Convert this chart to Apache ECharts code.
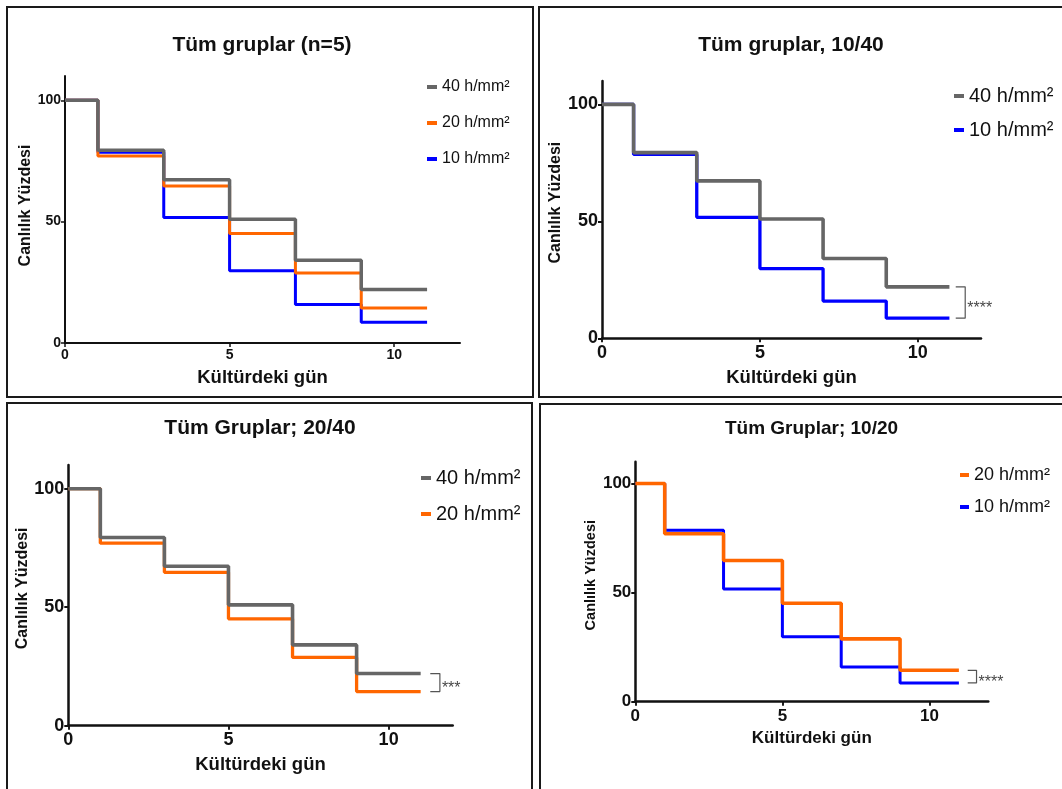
<!DOCTYPE html>
<html>
<head>
<meta charset="utf-8">
<script src="https://cdn.jsdelivr.net/npm/echarts@6/dist/echarts.min.js"></script>
<style>
  html, body { margin: 0; padding: 0; background: #ffffff; }
  #chart { width: 1062px; height: 789px; }
</style>
</head>
<body>
<div id="chart"></div>
<script>
// Survival (viability %) by culture day, step curves for three seeding densities
const days = [0, 1, 3, 5, 7, 9];
const lastDay = 11;
const viability40 = [100, 79.4, 67.3, 51.0, 34.1, 22.0];
const viability20 = [100, 77.0, 64.7, 45.1, 28.8, 14.4];
const viability10 = [100, 78.6, 51.7, 29.8, 15.9, 8.6];
const groupNames = ['40 h/mm²', '20 h/mm²', '10 h/mm²'];
const groupValues = [viability40, viability20, viability10];
const groupColors = ['#666666', '#ff6600', '#0000ff'];

const panelTitles = ['Tüm gruplar (n=5)', 'Tüm gruplar, 10/40', 'Tüm Gruplar; 20/40', 'Tüm Gruplar; 10/20'];
const xTicks = [0, 5, 10];
const yTicks = [0, 50, 100];
const xTitle = 'Kültürdeki gün';
const yTitle = 'Canlılık Yüzdesi';
const significanceMarks = ['', '****', '***', '****'];

const FONT = '"Liberation Sans", Arial, Helvetica, sans-serif';

// Layout and styling of the four panels
const panels = [
  { groups: [0, 1, 2], drawOrder: [2, 1, 0], grid: { left: 65, top: 76, width: 395, height: 267 },
    title: { x: 262, y: 34.5, size: 21 }, tickSize: 14, xNameSize: 18.5, yNameSize: 16,
    xNameGap: 25, yNameGap: 31, yNameShift: 8, labelMargin: 5,
    legend: { left: 427, top: 79, size: 16, gap: 20, w: 10 }, axisW: 2, lineW: [3.5, 3, 3],
    bracket: null },
  { groups: [0, 2], drawOrder: [2, 0], grid: { left: 602, top: 81, width: 379, height: 257.3 },
    title: { x: 791, y: 34.5, size: 21 }, tickSize: 18, xNameSize: 18.5, yNameSize: 16,
    xNameGap: 30, yNameGap: 38, yNameShift: 14, labelMargin: 6,
    legend: { left: 954, top: 86, size: 20, gap: 14, w: 10 }, axisW: 2.5, lineW: [3.6, 3, 3.3],
    bracket: { x0: 11.2, x1: 11.5, size: 16 } },
  { groups: [0, 1], drawOrder: [1, 0], grid: { left: 68.3, top: 465, width: 384.4, height: 260.7 },
    title: { x: 260, y: 417.8, size: 21 }, tickSize: 18, xNameSize: 18.5, yNameSize: 16,
    xNameGap: 30, yNameGap: 38, yNameShift: 14, labelMargin: 5,
    legend: { left: 421, top: 468, size: 20, gap: 16, w: 10 }, axisW: 2.5, lineW: [3.6, 3.3, 3],
    bracket: { x0: 11.3, x1: 11.6, size: 16 } },
  { groups: [1, 2], drawOrder: [2, 1], grid: { left: 635.3, top: 461.7, width: 353, height: 240 },
    title: { x: 811.5, y: 418.8, size: 19 }, tickSize: 17, xNameSize: 17, yNameSize: 14.5,
    xNameGap: 28, yNameGap: 37, yNameShift: 13, labelMargin: 6,
    legend: { left: 960, top: 466, size: 18, gap: 14, w: 9 }, axisW: 2.5, lineW: [3.5, 3.6, 3],
    bracket: { x0: 11.3, x1: 11.6, size: 16 } }
];

function stepData(values) {
  const pts = days.map((d, i) => [d, values[i]]);
  pts.push([lastDay, values[values.length - 1]]);
  return pts;
}

const option = {
  animation: false,
  backgroundColor: '#ffffff',
  title: [], legend: [], grid: [], xAxis: [], yAxis: [], series: [],
  graphic: [
    { type: 'rect', shape: { x: 7, y: 7, width: 526, height: 390 }, style: { fill: null, stroke: '#1a1a1a', lineWidth: 2 } },
    { type: 'rect', shape: { x: 539, y: 7, width: 560, height: 390 }, style: { fill: null, stroke: '#1a1a1a', lineWidth: 2 } },
    { type: 'rect', shape: { x: 7, y: 403, width: 525, height: 420 }, style: { fill: null, stroke: '#1a1a1a', lineWidth: 2 } },
    { type: 'rect', shape: { x: 540, y: 404, width: 560, height: 420 }, style: { fill: null, stroke: '#1a1a1a', lineWidth: 2 } }
  ]
};

panels.forEach((p, k) => {
  option.title.push({
    text: panelTitles[k], left: p.title.x, top: p.title.y, textAlign: 'center', padding: 0,
    textStyle: { fontFamily: FONT, fontSize: p.title.size, fontWeight: 'bold', color: '#111' }
  });
  option.legend.push({
    orient: 'vertical', left: p.legend.left, top: p.legend.top, padding: 0,
    itemGap: p.legend.gap, itemWidth: p.legend.w, itemHeight: 4, icon: 'rect',
    selectedMode: false,
    data: p.groups.map(g => groupNames[g]),
    textStyle: { fontFamily: FONT, fontSize: p.legend.size, color: '#111' }
  });
  option.grid.push(Object.assign({ containLabel: false }, p.grid));
  option.xAxis.push({
    type: 'value', gridIndex: k, min: 0, max: 12, interval: 5,
    name: xTitle, nameLocation: 'middle', nameGap: p.xNameGap,
    nameTextStyle: { fontFamily: FONT, fontSize: p.xNameSize, fontWeight: 'bold', color: '#111' },
    axisLine: { show: true, onZero: false, lineStyle: { color: '#111', width: p.axisW } },
    axisTick: { show: true, length: 4, customValues: xTicks, lineStyle: { color: '#111', width: p.axisW * 0.75 } },
    axisLabel: { customValues: xTicks, margin: p.labelMargin, fontFamily: FONT, fontSize: p.tickSize, fontWeight: 'bold', color: '#111' },
    splitLine: { show: false }
  });
  option.yAxis.push({
    type: 'value', gridIndex: k, min: 0, max: 110, interval: 50,
    name: yTitle, nameLocation: 'middle', nameGap: p.yNameGap,
    nameTextStyle: { fontFamily: FONT, fontSize: p.yNameSize, fontWeight: 'bold', color: '#111',
      padding: [0, 0, 0, p.yNameShift] },
    axisLine: { show: true, onZero: false, lineStyle: { color: '#111', width: p.axisW } },
    axisTick: { show: true, length: 4, customValues: yTicks, lineStyle: { color: '#111', width: p.axisW * 0.75 } },
    axisLabel: { customValues: yTicks, margin: 4, fontFamily: FONT, fontSize: p.tickSize, fontWeight: 'bold', color: '#111' },
    splitLine: { show: false }
  });
  p.drawOrder.forEach(g => {
    option.series.push({
      type: 'line', name: groupNames[g], xAxisIndex: k, yAxisIndex: k,
      step: 'end', showSymbol: false, symbol: 'none',
      data: stepData(groupValues[g]),
      color: groupColors[g],
      lineStyle: { color: groupColors[g], width: p.lineW[g] },
      emphasis: { disabled: true }, silent: true
    });
  });
  if (p.bracket) {
    // Bracket joining the final values of the two compared curves
    const endA = groupValues[p.groups[0]][days.length - 1];
    const endB = groupValues[p.groups[1]][days.length - 1];
    const hi = Math.max(endA, endB);
    const lo = Math.min(endA, endB);
    const b = p.bracket;
    option.series.push({
      type: 'line', name: 'bracket-' + k, xAxisIndex: k, yAxisIndex: k,
      showSymbol: false, symbol: 'none', silent: true,
      data: [[b.x0, hi], [b.x1, hi], [b.x1, lo], [b.x0, lo]],
      lineStyle: { color: '#555', width: 1.2 },
      emphasis: { disabled: true }
    });
    option.series.push({
      type: 'scatter', name: 'mark-' + k, xAxisIndex: k, yAxisIndex: k,
      symbolSize: 0, silent: true,
      data: [[b.x1, (hi + lo) / 2]],
      label: { show: true, position: 'right', distance: 2, offset: [0, 6],
        formatter: significanceMarks[k], fontFamily: FONT, fontSize: b.size, color: '#111' },
      emphasis: { disabled: true }
    });
  }
});

const chart = echarts.init(document.getElementById('chart'), null, { renderer: 'canvas' });
chart.setOption(option);
</script>
</body>
</html>
